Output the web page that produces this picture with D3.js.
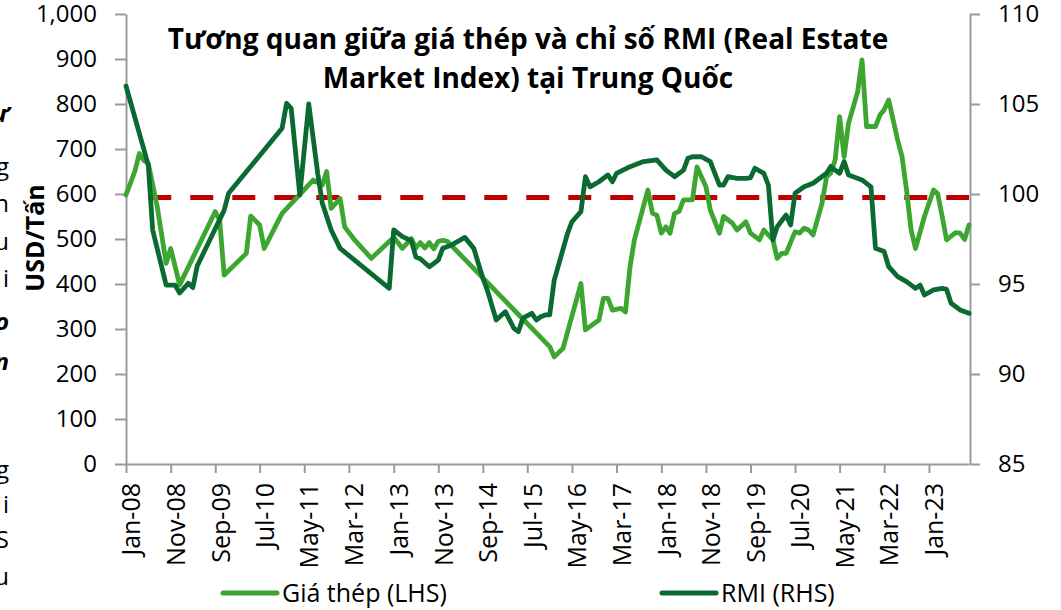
<!DOCTYPE html>
<html>
<head>
<meta charset="utf-8">
<script src="https://cdn.jsdelivr.net/npm/d3@7"></script>
<style>
  body { margin: 0; background: #fff; }
  svg { display: block; font-family: "Open Sans", sans-serif; }
</style>
</head>
<body>
<div id="chart"></div>
<script>
// Data (months are "YYYY-MM")
const steelDates = ["2008-01","2008-03","2008-04","2008-05","2008-06","2008-08","2008-10","2008-11","2009-01","2009-09","2009-10","2009-11","2010-04","2010-05","2010-07","2010-08","2010-12","2011-07","2011-09","2011-10","2011-11","2012-01","2012-02","2012-04","2012-08","2013-01","2013-03","2013-05","2013-06","2013-07","2013-08","2013-09","2013-10","2013-11","2013-12","2014-01","2015-12","2016-01","2016-03","2016-07","2016-08","2016-11","2016-12","2017-01","2017-02","2017-04","2017-05","2017-06","2017-07","2017-10","2017-11","2017-12","2018-01","2018-02","2018-03","2018-04","2018-05","2018-06","2018-08","2018-09","2018-11","2018-12","2019-02","2019-03","2019-05","2019-06","2019-08","2019-09","2019-11","2019-12","2020-02","2020-03","2020-04","2020-05","2020-07","2020-08","2020-09","2020-10","2020-11","2021-01","2021-02","2021-03","2021-04","2021-05","2021-06","2021-07","2021-09","2021-10","2021-11","2022-01","2022-02","2022-03","2022-04","2022-06","2022-07","2022-08","2022-09","2022-10","2022-12","2023-02","2023-03","2023-04","2023-05","2023-07","2023-08","2023-09","2023-10"];
const steelValues = [598,650,690,675,668,572,446,479,398,561,542,420,468,551,531,479,557,631,620,650,568,590,527,501,457,504,479,501,480,492,480,492,478,495,497,495,261,238,257,401,298,320,368,368,342,346,338,438,498,609,557,553,513,527,513,557,561,587,587,660,616,564,513,550,535,520,538,513,498,520,498,457,468,468,516,513,524,520,509,579,638,646,676,772,683,757,827,898,750,750,776,787,809,720,683,609,520,479,550,609,601,550,498,514,513,499,531];

const rmiDates = ["2008-01","2008-06","2008-07","2008-10","2008-12","2009-01","2009-03","2009-04","2009-05","2009-11","2009-12","2010-12","2011-01","2011-02","2011-04","2011-06","2011-08","2011-09","2011-11","2012-01","2012-12","2013-01","2013-03","2013-05","2013-06","2013-07","2013-09","2013-11","2013-12","2014-02","2014-05","2014-07","2014-09","2014-10","2014-12","2015-02","2015-04","2015-05","2015-06","2015-08","2015-09","2015-10","2015-11","2015-12","2016-01","2016-04","2016-05","2016-07","2016-08","2016-09","2016-11","2017-01","2017-02","2017-03","2017-06","2017-09","2017-12","2018-02","2018-04","2018-06","2018-07","2018-08","2018-10","2018-12","2019-01","2019-02","2019-03","2019-04","2019-06","2019-08","2019-09","2019-10","2019-12","2020-01","2020-02","2020-03","2020-05","2020-06","2020-07","2020-09","2020-11","2020-12","2021-02","2021-03","2021-04","2021-05","2021-06","2021-07","2021-10","2021-12","2022-01","2022-03","2022-04","2022-06","2022-08","2022-10","2022-11","2022-12","2023-02","2023-04","2023-05","2023-06","2023-08","2023-10"];
const rmiValues = [106.0,101.6,98.0,94.94,94.94,94.5,95.04,94.8,96.0,99.1,100.04,103.65,105.04,104.76,99.94,105.0,101.15,99.5,98.0,96.98,94.76,98.0,97.63,97.4,96.5,96.4,95.96,96.33,96.98,97.17,97.59,96.98,95.32,94.67,93.0,93.46,92.54,92.35,93.1,93.37,93.0,93.18,93.28,93.28,95.22,97.82,98.46,99.02,100.96,100.4,100.68,101.06,100.68,101.15,101.52,101.8,101.9,101.33,100.96,101.33,101.98,102.07,102.07,101.8,101.15,100.5,100.5,100.96,100.87,100.87,100.9,101.43,101.15,100.5,97.44,98.18,98.83,98.28,100.04,100.4,100.6,100.78,101.15,101.52,101.33,101.15,101.8,101.06,100.78,100.4,96.98,96.8,95.96,95.41,95.13,94.76,94.94,94.39,94.67,94.76,94.7,93.93,93.56,93.37];

const thresholdDates = ["2008-06","2023-10"];
const thresholdValue = 99.8;

const tickLabels = ["Jan-08","Nov-08","Sep-09","Jul-10","May-11","Mar-12","Jan-13","Nov-13","Sep-14","Jul-15","May-16","Mar-17","Jan-18","Nov-18","Sep-19","Jul-20","May-21","Mar-22","Jan-23"];
const leftTicks = [0,100,200,300,400,500,600,700,800,900,1000];
const rightTicks = [85,90,95,100,105,110];
const seriesNames = ["Giá thép (LHS)","RMI (RHS)"];
const titleLines = ["Tương quan giữa giá thép và chỉ số RMI (Real Estate","Market Index) tại Trung Quốc"];
const yTitle = "USD/Tấn";
// cut-off letters from the neighbouring column on the left of the picture
const sideLetters = ["ư","g","n","u","i","o","n","g","i","S","u"];
const sideBaselines = [122,175,212,250,287,330,370,478,513,548,585];
const sideBold = [true,false,false,false,false,true,true,false,false,false,false];

const colors = { steel: "#3da630", rmi: "#0b6a31", ref: "#c00000", axis: "#9a9a9a" };

const parseMonth = d3.timeParse("%Y-%m");
const parseTick = d3.timeParse("%b-%y");

const svg = d3.select("#chart")
  .append("svg")
    .attr("width", 1061)
    .attr("height", 610);

// Scales
const x = d3.scaleTime()
  .domain([parseMonth("2008-01"), parseMonth("2023-10")])
  .range([126, 969]);
const yL = d3.scaleLinear().domain([0, 1000]).range([464, 14]);
const yR = d3.scaleLinear().domain([85, 110]).range([464, 14]);

// Axes
const leftAxis = svg.append("g")
    .attr("transform", "translate(126,0)")
    .call(d3.axisLeft(yL).tickValues(leftTicks).tickSize(11).tickSizeOuter(0)
      .tickPadding(18).tickFormat(d3.format(",")));

const rightAxis = svg.append("g")
    .attr("transform", "translate(970,0)")
    .call(d3.axisRight(yR).tickValues(rightTicks).tickSize(10).tickSizeOuter(0)
      .tickPadding(18));

const bottomAxis = svg.append("g")
    .attr("transform", "translate(0,464)")
    .call(d3.axisBottom(x).tickValues(tickLabels.map(parseTick)).tickSize(9).tickSizeOuter(0)
      .tickFormat((d, i) => tickLabels[i]));

bottomAxis.selectAll(".tick text")
    .attr("transform", "rotate(-90)")
    .attr("text-anchor", "end")
    .attr("x", -19)
    .attr("y", 0)
    .attr("dy", "0.55em")
    .style("font-size", "25px");

[leftAxis, rightAxis, bottomAxis].forEach(g => {
  g.selectAll("path.domain, .tick line")
    .attr("stroke", colors.axis)
    .attr("stroke-width", 2);
  g.selectAll("text")
    .attr("fill", "#000")
    .style("font-family", "'Open Sans', sans-serif");
});
leftAxis.selectAll("text").style("font-size", "24px");
rightAxis.selectAll("text").style("font-size", "24px");

// Lines
const steelLine = d3.line()
  .x((d, i) => x(parseMonth(steelDates[i])))
  .y(d => yL(d));
const rmiLine = d3.line()
  .x((d, i) => x(parseMonth(rmiDates[i])))
  .y(d => yR(d));

svg.append("line")
    .attr("x1", x(parseMonth(thresholdDates[0])))
    .attr("x2", x(parseMonth(thresholdDates[1])))
    .attr("y1", yR(thresholdValue))
    .attr("y2", yR(thresholdValue))
    .attr("stroke", colors.ref)
    .attr("stroke-width", 5)
    .attr("stroke-dasharray", "23,19");

svg.append("path")
    .datum(steelValues)
    .attr("d", steelLine)
    .attr("fill", "none")
    .attr("stroke", colors.steel)
    .attr("stroke-width", 4.8)
    .attr("stroke-linejoin", "round")
    .attr("stroke-linecap", "round");

svg.append("path")
    .datum(rmiValues)
    .attr("d", rmiLine)
    .attr("fill", "none")
    .attr("stroke", colors.rmi)
    .attr("stroke-width", 4.8)
    .attr("stroke-linejoin", "round")
    .attr("stroke-linecap", "round");

// Title
svg.append("text")
    .attr("x", 528)
    .attr("y", 49)
    .attr("text-anchor", "middle")
    .style("font-size", "28px")
    .style("font-weight", "bold")
  .selectAll("tspan")
  .data(titleLines)
  .join("tspan")
    .attr("x", 528)
    .attr("dy", (d, i) => i === 0 ? 0 : 39)
    .text(d => d);

// Y axis title
svg.append("text")
    .attr("transform", "translate(44,238) rotate(-90)")
    .attr("text-anchor", "middle")
    .style("font-size", "25px")
    .style("font-weight", "bold")
    .text(yTitle);

// Legend
const legendX = [223, 662];
const legendColors = [colors.steel, colors.rmi];
const legend = svg.selectAll(".legend")
  .data(seriesNames)
  .join("g")
    .attr("class", "legend")
    .attr("transform", (d, i) => `translate(${legendX[i]},593)`);
legend.append("line")
    .attr("x1", 0).attr("x2", 54)
    .attr("stroke", (d, i) => legendColors[i])
    .attr("stroke-width", 5)
    .attr("stroke-linecap", "round");
legend.append("text")
    .attr("x", 59)
    .attr("dy", "0.36em")
    .style("font-size", "25px")
    .text(d => d);

// Side letters
svg.selectAll(".side")
  .data(sideLetters)
  .join("text")
    .attr("class", "side")
    .attr("x", 9)
    .attr("y", (d, i) => sideBaselines[i])
    .attr("text-anchor", "end")
    .style("font-size", "24px")
    .style("font-weight", (d, i) => sideBold[i] ? "bold" : "normal")
    .style("font-style", (d, i) => sideBold[i] ? "italic" : "normal")
    .text(d => d);
</script>
</body>
</html>
